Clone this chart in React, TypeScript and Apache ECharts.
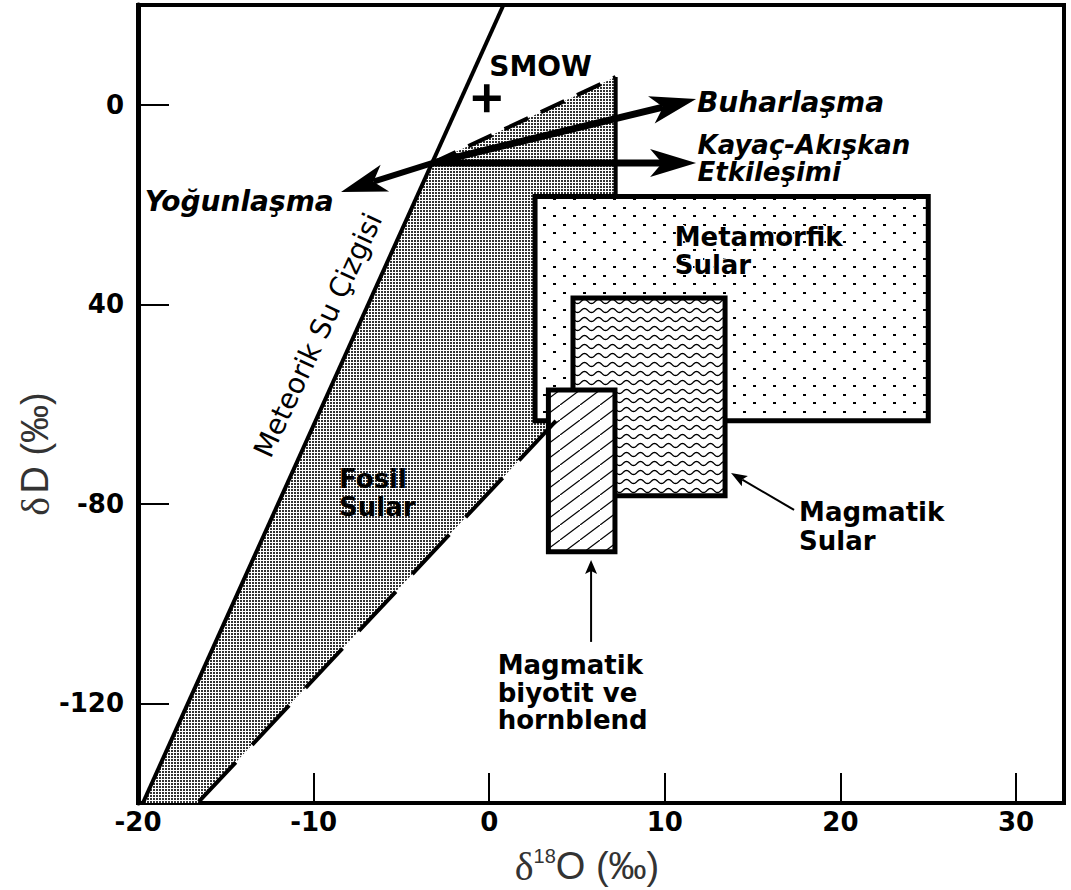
import React, { useEffect, useRef } from "react";
import * as echarts from "echarts";

// ---- axes ----
const xTickValues = [-10, 0, 10, 20, 30];
const xLabelValues = [-20, -10, 0, 10, 20, 30];
const yTickValues = [-120, -80, -40, 0];
const yTickLabels = ["-120", "-80", "40", "0"];

// ---- Meteoric water line ----
const meteoricX = [-19.72, 0.81];
const meteoricY = [-140, 20];

// ---- Fossil waters field ----
const fossilX = [-19.72, -3.25, 7.2, 7.2, 3.8, -16.61];
const fossilY = [-140, -11.7, 5.56, -63.4, -63.4, -140];
const fossilTopX = [-3.25, 7.2];
const fossilTopY = [-11.7, 5.56];
const fossilRightX = [7.2, 7.2];
const fossilRightY = [5.56, -18.5];
const fossilLowX = [3.8, -16.61];
const fossilLowY = [-63.4, -140];

// ---- Boxes: [xmin, xmax, ymin, ymax] ----
const metamorphicBox = [2.61, 25.0, -63.35, -18.4];
const magmaticBox = [4.77, 13.43, -78.4, -38.75];
const biotiteBox = [3.37, 7.16, -89.6, -57.2];

// ---- SMOW ----
const smowPoint = [-0.14, 1.3];

// ---- Arrows: [x0, y0, xTip, yTip] ----
const evaporationArrow = [-3.25, -11.7, 11.78, 1.15];
const rockFluidArrow = [-3.25, -11.7, 11.78, -11.7];
const condensationArrow = [-3.25, -11.7, -8.44, -17.49];
const magmaticPointer = [17.36, -81.25, 13.77, -73.83];
const biotitePointer = [5.8, -107.7, 5.8, -91.28];

// ---- Annotations ----
const labelTexts = [
  "SMOW",
  "Buharlaşma",
  "Kayaç-Akışkan\nEtkileşimi",
  "Yoğunlaşma",
  "Fosil\nSular",
  "Metamorfik\nSular",
  "Magmatik\nSular",
  "Magmatik\nbiyotit ve\nhornblend",
  "Meteorik Su Çizgisi",
];
const labelX = [0.0, 11.83, 11.86, -19.62, -8.55, 10.56, 17.64, 0.48, -9.75];
const labelY = [7.57, 0.55, -10.78, -19.3, -77.85, -29.3, -84.6, -117.9, -46.2];

const FONT = "DejaVu Sans";

function makeTile(w: number, h: number, draw: (ctx: CanvasRenderingContext2D) => void) {
  const c = document.createElement("canvas");
  c.width = w;
  c.height = h;
  const ctx = c.getContext("2d")!;
  ctx.fillStyle = "#fff";
  ctx.fillRect(0, 0, w, h);
  draw(ctx);
  return { image: c, repeat: "repeat", imageWidth: w, imageHeight: h } as any;
}

export default function App() {
  const ref = useRef<HTMLDivElement>(null);

  useEffect(() => {
    const chart = echarts.init(ref.current!, null, { renderer: "svg" });

    const stipple = makeTile(3, 3, (ctx) => {
      ctx.fillStyle = "#333";
      ctx.fillRect(0, 0, 2, 2);
    });
    const dots = makeTile(20, 17, (ctx) => {
      ctx.fillStyle = "#000";
      ctx.fillRect(3, 3, 3, 2);
      ctx.fillRect(13, 11, 3, 2);
    });
    const waves = makeTile(14, 9, (ctx) => {
      ctx.strokeStyle = "#000";
      ctx.lineWidth = 1.3;
      ctx.beginPath();
      for (let i = -2; i <= 32; i++) {
        const x = i * 0.5;
        const y = 4.5 + 2 * Math.sin((2 * Math.PI * x) / 14);
        if (i === -2) ctx.moveTo(x, y);
        else ctx.lineTo(x, y);
      }
      ctx.stroke();
    });
    const hatch = makeTile(20, 15, (ctx) => {
      ctx.strokeStyle = "#000";
      ctx.lineWidth = 1.2;
      ctx.beginPath();
      ctx.moveTo(-2, 16.5);
      ctx.lineTo(22, -1.5);
      ctx.stroke();
    });

    const polygonSeries = (xs: number[], ys: number[], fill: any) => ({
      type: "custom",
      clip: false,
      silent: true,
      data: [[xs[0], ys[0]]],
      renderItem: (_p: any, api: any) => ({
        type: "polygon",
        shape: { points: xs.map((x, i) => api.coord([x, ys[i]])) },
        style: { fill, stroke: null },
      }),
    });

    const boxSeries = (box: number[], fill: any) => ({
      type: "custom",
      clip: false,
      silent: true,
      data: [[box[0], box[2]]],
      renderItem: (_p: any, api: any) => {
        const p0 = api.coord([box[0], box[3]]);
        const p1 = api.coord([box[1], box[2]]);
        return {
          type: "rect",
          shape: { x: p0[0], y: p0[1], width: p1[0] - p0[0], height: p1[1] - p0[1] },
          style: { fill, stroke: "#000", lineWidth: 5 },
        };
      },
    });

    const lineSeries = (xs: number[], ys: number[], width: number, type: any) => ({
      type: "line",
      silent: true,
      symbol: "none",
      data: xs.map((x, i) => [x, ys[i]]),
      lineStyle: { color: "#000", width, type },
    });

    const arrowSeries = (a: number[], width: number, len: number, half: number, notch: number) => ({
      type: "custom",
      clip: false,
      silent: true,
      data: [[a[2], a[3]]],
      renderItem: (_p: any, api: any) => {
        const p0 = api.coord([a[0], a[1]]);
        const p1 = api.coord([a[2], a[3]]);
        const dx = p1[0] - p0[0];
        const dy = p1[1] - p0[1];
        const L = Math.hypot(dx, dy);
        const ux = dx / L;
        const uy = dy / L;
        const nx = -uy;
        const ny = ux;
        const bx = p1[0] - ux * len;
        const by = p1[1] - uy * len;
        const cx = p1[0] - ux * (len - notch);
        const cy = p1[1] - uy * (len - notch);
        return {
          type: "group",
          children: [
            {
              type: "line",
              shape: { x1: p0[0], y1: p0[1], x2: cx, y2: cy },
              style: { stroke: "#000", lineWidth: width },
            },
            {
              type: "polygon",
              shape: {
                points: [
                  [p1[0], p1[1]],
                  [bx + nx * half, by + ny * half],
                  [cx, cy],
                  [bx - nx * half, by - ny * half],
                ],
              },
              style: { fill: "#000" },
            },
          ],
        };
      },
    });

    const labelStyle = (i: number) => {
      const base: any = {
        show: true,
        position: "right",
        distance: 0,
        color: "#000",
        opacity: 1,
        fontFamily: FONT,
        fontWeight: "bold",
        fontSize: 27,
        formatter: labelTexts[i],
      };
      if (i === 0) Object.assign(base, { fontSize: 28 });
      if (i === 1 || i === 3) Object.assign(base, { fontStyle: "italic", fontSize: 28 });
      if (i === 2) Object.assign(base, { fontStyle: "italic", fontSize: 26, lineHeight: 27.5 });
      if (i === 4) Object.assign(base, { fontSize: 26, lineHeight: 28.5 });
      if (i === 5) Object.assign(base, { fontSize: 26, lineHeight: 27.5, textBorderColor: "#fff", textBorderWidth: 2 });
      if (i === 6) Object.assign(base, { fontSize: 26, lineHeight: 28.5 });
      if (i === 7) Object.assign(base, { fontSize: 26, lineHeight: 27.5 });
      if (i === 8)
        Object.assign(base, {
          position: "inside",
          align: "center",
          verticalAlign: "middle",
          rotate: 65,
          fontWeight: "normal",
          fontSize: 28,
        });
      return base;
    };

    const option: any = {
      animation: false,
      backgroundColor: "#fff",
      grid: {
        left: 138,
        right: 7,
        top: 5,
        bottom: 87,
        show: true,
        borderColor: "#000",
        borderWidth: 4,
        containLabel: false,
        outerBoundsMode: "none",
      },
      xAxis: {
        type: "value",
        min: -20,
        max: 32.73,
        axisLine: { show: true, onZero: false, lineStyle: { color: "#000", width: 4 } },
        axisTick: { show: true, inside: true, length: 30, customValues: xTickValues, lineStyle: { color: "#000", width: 2 } },
        axisLabel: {
          show: true,
          customValues: xLabelValues,
          margin: 6,
          color: "#000",
          fontFamily: FONT,
          fontWeight: "bold",
          fontSize: 26,
        },
        splitLine: { show: false },
      },
      yAxis: {
        type: "value",
        min: -140,
        max: 20,
        axisLine: { show: true, onZero: false, lineStyle: { color: "#000", width: 5 } },
        axisTick: { show: true, inside: true, length: 31, customValues: yTickValues, lineStyle: { color: "#000", width: 2 } },
        axisLabel: {
          show: true,
          customValues: yTickValues,
          margin: 14,
          color: "#000",
          fontFamily: FONT,
          fontWeight: "bold",
          fontSize: 26,
          formatter: (v: number) => {
            const i = yTickValues.indexOf(v);
            return i >= 0 ? yTickLabels[i] : "";
          },
        },
        splitLine: { show: false },
      },
      series: [
        polygonSeries(fossilX, fossilY, stipple),
        lineSeries(fossilTopX, fossilTopY, 4, [26, 14]),
        lineSeries(fossilRightX, fossilRightY, 4, "solid"),
        lineSeries(fossilLowX, fossilLowY, 4, [54, 24]),
        lineSeries(meteoricX, meteoricY, 4, "solid"),
        boxSeries(metamorphicBox, dots),
        boxSeries(magmaticBox, waves),
        boxSeries(biotiteBox, hatch),
        arrowSeries(evaporationArrow, 7, 46, 14, 12),
        arrowSeries(rockFluidArrow, 7, 46, 14, 12),
        arrowSeries(condensationArrow, 6, 46, 14, 12),
        arrowSeries(magmaticPointer, 2, 16, 6, 3),
        arrowSeries(biotitePointer, 2, 14, 6, 3),
        {
          type: "scatter",
          silent: true,
          symbol: "path://M4,0H6V4H10V6H6V10H4V6H0V4H4Z",
          symbolSize: 28,
          itemStyle: { color: "#000", opacity: 1 },
          data: [smowPoint],
        },
        {
          type: "scatter",
          silent: true,
          symbolSize: 0,
          itemStyle: { color: "#000", opacity: 1 },
          label: { show: true, color: "#000", opacity: 1 },
          data: labelTexts.map((_, i) => ({ value: [labelX[i], labelY[i]], label: labelStyle(i) })),
        },
      ],
      graphic: [
        {
          type: "text",
          x: 35,
          y: 454,
          rotation: Math.PI / 2,
          style: {
            text: "{a|δ} {b|D (‰)}",
            align: "center",
            verticalAlign: "middle",
            fill: "#333",
            rich: {
              a: { fontFamily: "Liberation Serif", fontSize: 40, fill: "#333" },
              b: { fontFamily: "Liberation Sans", fontSize: 38, fill: "#333" },
            },
          },
        },
        {
          type: "text",
          x: 587,
          y: 866,
          style: {
            text: "{d|δ}{s|18}{o|O (‰)}",
            align: "center",
            verticalAlign: "middle",
            fill: "#333",
            rich: {
              d: { fontFamily: "Liberation Serif", fontSize: 40, fill: "#333" },
              s: { fontFamily: "Liberation Sans", fontSize: 20, fill: "#333", verticalAlign: "top" },
              o: { fontFamily: "Liberation Sans", fontSize: 38, fill: "#333" },
            },
          },
        },
      ],
    };

    chart.setOption(option);
    return () => chart.dispose();
  }, []);

  return (
    <div
      ref={ref}
      style={{ position: "absolute", left: 0, top: 0, width: 1071, height: 890, background: "#fff" }}
    />
  );
}
